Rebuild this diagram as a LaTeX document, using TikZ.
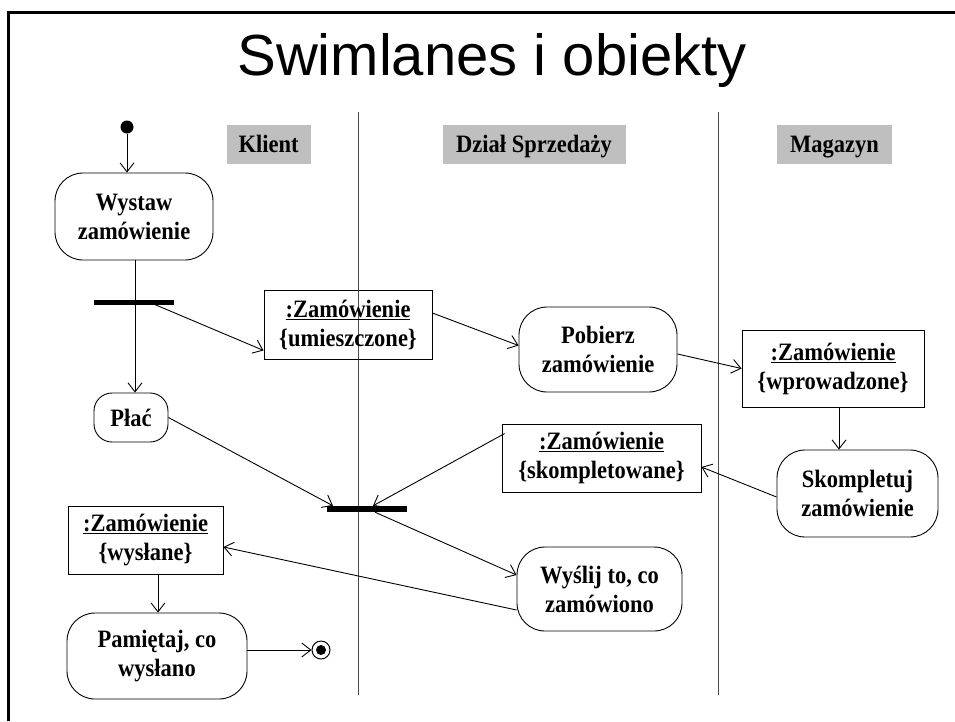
\documentclass[tikz,border=0pt]{standalone}
\usepackage{fontspec}
\setmainfont{Liberation Serif}
\newfontfamily\titlefont{Liberation Sans}
\newfontfamily\boxfont[FakeStretch=0.9]{Liberation Serif}
\usetikzlibrary{arrows.meta}
\tikzset{
  txt/.style={font=\boxfont\fontsize{25}{29}\selectfont\bfseries, align=center, inner sep=0pt},
  act/.style={txt, draw, line width=0.9pt, rounded corners=28pt},
  obj/.style={txt, draw, line width=0.9pt},
  bar/.style={fill=black, inner sep=0pt, minimum height=6pt, minimum width=80pt},
  lanehdr/.style={fill=black!25, inner sep=0pt, font=\boxfont\fontsize{25}{29}\selectfont\bfseries, text height=16.5pt, text depth=0pt, minimum height=39pt},
  conn/.style={line width=0.9pt, -{Straight Barb[length=9pt,width=14pt,line width=0.9pt]}},
  plain/.style={line width=0.9pt},
  lane/.style={line width=1pt, black!70}
}
\begin{document}
\begin{tikzpicture}[x=1pt,y=-1pt]
\useasboundingbox (0,0) rectangle (955,721);
% frame
\draw[line width=3pt] (8,721) -- (8,12) -- (955,12);
% title
\node[font=\titlefont\fontsize{58}{64}\selectfont, inner sep=0pt] (title) at (492,60) {Swimlanes i obiekty};
% swimlanes
\coordinate (l1t) at (358,112); \coordinate (l1b) at (358,695);
\coordinate (l2t) at (718,112); \coordinate (l2b) at (718,695);
\draw[lane] (l1t) -- (l1b);
\draw[lane] (l2t) -- (l2b);
% headers
\node[lanehdr, minimum width=84pt] (hk) at (268.5,144.5) {Klient};
\node[lanehdr, minimum width=183pt] (hd) at (534,144.5) {Dział Sprzedaży};
\node[lanehdr, minimum width=115pt] (hm) at (834.5,144.5) {Magazyn};
% start / end
\node[circle, fill=black, inner sep=0pt, minimum size=13pt] (start) at (127,127) {};
\node[circle, draw, line width=1pt, inner sep=0pt, minimum size=18pt] (end) at (321,650) {};
\node[circle, fill=black, inner sep=0pt, minimum size=10pt] (endin) at (321,650) {};
% activities
\node[act, minimum width=158pt, minimum height=87pt] (wystaw) at (134,216.5) {Wystaw\\zamówienie};
\node[act, minimum width=158pt, minimum height=85pt] (pobierz) at (598,349.5) {Pobierz\\zamówienie};
\node[act, minimum width=161pt, minimum height=87pt] (skompl) at (857.5,493.5) {Skompletuj\\zamówienie};
\node[act, minimum width=165pt, minimum height=84pt] (wyslij) at (599.5,589) {Wyślij to, co\\zamówiono};
\node[act, minimum width=180pt, minimum height=86pt] (pamietaj) at (157,656) {Pamiętaj, co\\wysłano};
\node[act, rounded corners=18pt, minimum width=74pt, minimum height=49pt] (plac) at (131,417.5) {Płać};
% objects
\node[obj, minimum width=168pt, minimum height=69pt] (obj1) at (348,324.5) {\underline{:Zamówienie}\\\{umieszczone\}};
\node[obj, minimum width=182pt, minimum height=77pt] (obj2) at (833,368.5) {\underline{:Zamówienie}\\\{wprowadzone\}};
\node[obj, minimum width=199pt, minimum height=68pt] (obj3) at (601.5,458) {\underline{:Zamówienie}\\\{skompletowane\}};
\node[obj, minimum width=155pt, minimum height=68pt] (obj4) at (145.5,540) {\underline{:Zamówienie}\\\{wysłane\}};
% bars
\node[bar, minimum height=5pt] (fork) at (134,302.5) {};
\node[bar] (join) at (367,509) {};
% connectors
\draw[conn] (start.south) -- (start.south |- wystaw.north);
\draw[plain] ([xshift=1pt]wystaw.south) -- ([xshift=1pt]fork.north);
\draw[conn] ([xshift=1pt]fork.south) -- ([xshift=1pt]fork.south |- plac.north);
\draw[conn] ([xshift=16pt]fork.center) -- ([yshift=9pt]obj1.south west);
\draw[conn] ([yshift=11.5pt]obj1.east) -- ([yshift=4pt]pobierz.west);
\draw[conn] ([yshift=-4.5pt]pobierz.east) -- (obj2.west);
\draw[conn] ([xshift=6pt]obj2.south) -- ([xshift=6pt]obj2.south |- skompl.north);
\draw[conn] ([yshift=-3.5pt]skompl.west) -- ([yshift=-9pt]obj3.east);
\draw[conn] ([shift={(3pt,-10pt)}]obj3.north west) -- ([xshift=6pt]join.north);
\draw[conn] (plac.east) -- ([xshift=-34pt]join.north);
\draw[conn] ([xshift=8pt]join.south) -- ([yshift=14pt]wyslij.west);
\draw[conn] ([yshift=-21pt]wyslij.west) -- ([yshift=-7pt]obj4.east);
\draw[conn] ([xshift=12.5pt]obj4.south) -- ([xshift=12.5pt]obj4.south |- pamietaj.north);
\draw[conn] (end.west -| pamietaj.east) -- (end.west);
\end{tikzpicture}
\end{document}
